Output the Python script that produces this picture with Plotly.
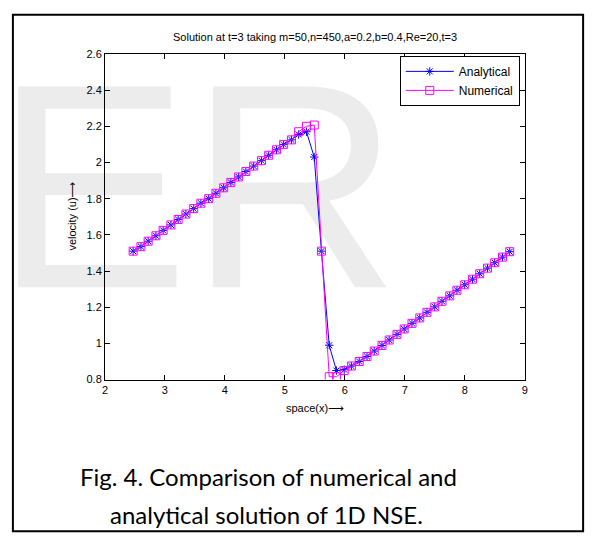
import plotly.graph_objects as go

# Grid points in space
space_x = [2.47, 2.60, 2.72, 2.85, 2.97, 3.10, 3.22, 3.35, 3.48, 3.60,
           3.73, 3.85, 3.98, 4.10, 4.23, 4.35, 4.48, 4.61, 4.73, 4.86,
           4.98, 5.11, 5.23, 5.36, 5.49, 5.61, 5.74, 5.86, 5.99, 6.11,
           6.24, 6.37, 6.49, 6.62, 6.74, 6.87, 6.99, 7.12, 7.25, 7.37,
           7.50, 7.62, 7.75, 7.87, 8.00, 8.13, 8.25, 8.38, 8.50, 8.63,
           8.75]

# Exact (analytical) velocity at t=3
u_analytical = [1.510, 1.535, 1.565, 1.595, 1.625, 1.655, 1.685, 1.715, 1.745, 1.775,
                1.800, 1.830, 1.860, 1.890, 1.920, 1.950, 1.980, 2.010, 2.040, 2.070,
                2.100, 2.125, 2.155, 2.170, 2.030, 1.510, 0.990, 0.850, 0.855, 0.875,
                0.900, 0.928, 0.958, 0.989, 1.019, 1.050, 1.080, 1.111, 1.141, 1.172,
                1.202, 1.233, 1.263, 1.294, 1.324, 1.355, 1.385, 1.416, 1.446, 1.477,
                1.507]

# Numerical velocity at t=3
u_numerical = [1.510, 1.535, 1.565, 1.595, 1.625, 1.655, 1.685, 1.715, 1.745, 1.775,
               1.800, 1.830, 1.860, 1.890, 1.920, 1.950, 1.980, 2.010, 2.040, 2.070,
               2.100, 2.125, 2.170, 2.200, 2.207, 1.510, 0.816, 0.816, 0.850, 0.875,
               0.900, 0.928, 0.958, 0.989, 1.019, 1.050, 1.080, 1.111, 1.141, 1.172,
               1.202, 1.233, 1.263, 1.294, 1.324, 1.355, 1.385, 1.416, 1.446, 1.477,
               1.507]

x_ticks = [2, 3, 4, 5, 6, 7, 8, 9]
y_ticks = [0.8, 1.0, 1.2, 1.4, 1.6, 1.8, 2.0, 2.2, 2.4, 2.6]

W, H = 597, 547
px = lambda v: v / W
py = lambda v: 1 - v / H

fig = go.Figure()

# Faint background lettering, on a page-sized hidden subplot drawn first
fig.add_trace(go.Scatter(
    x=[196], y=[213], mode="text", text=["ER"],
    textposition="middle center",
    textfont=dict(family="Liberation Sans, Arial", size=292, color="#ececec"),
    cliponaxis=False, showlegend=False, hoverinfo="skip",
    xaxis="x", yaxis="y",
))

fig.add_trace(go.Scatter(
    x=space_x, y=u_analytical, name="Analytical", mode="lines+markers",
    line=dict(color="#0000ff", width=1),
    marker=dict(symbol="asterisk-open", size=7, color="#0000ff",
                line=dict(color="#0000ff", width=1)),
    xaxis="x2", yaxis="y2",
))
fig.add_trace(go.Scatter(
    x=space_x, y=u_numerical, name="Numerical", mode="lines+markers",
    line=dict(color="#ff00ff", width=1),
    marker=dict(symbol="square-open", size=8, color="#ff00ff",
                line=dict(color="#ff00ff", width=1)),
    xaxis="x2", yaxis="y2",
))

axis_style = dict(
    showline=True, linecolor="black", linewidth=1, mirror="ticks",
    ticks="inside", ticklen=5, tickwidth=1, tickcolor="black",
    showgrid=False, zeroline=False,
    tickfont=dict(family="Liberation Sans, Arial", size=11, color="black"),
)

fig.update_layout(
    width=W, height=H,
    margin=dict(l=0, r=0, t=0, b=0),
    paper_bgcolor="white",
    plot_bgcolor="rgba(0,0,0,0)",
    xaxis=dict(domain=[0, 1], range=[0, W], visible=False, fixedrange=True),
    yaxis=dict(domain=[0, 1], range=[H, 0], visible=False, fixedrange=True),
    xaxis2=dict(domain=[px(103), px(527)], anchor="y2", range=[2, 9],
                tickvals=x_ticks, **axis_style),
    yaxis2=dict(domain=[py(382), py(49)], anchor="x2", range=[0.8, 2.6],
                tickvals=y_ticks, **axis_style),
    showlegend=True,
    legend=dict(x=px(522), xanchor="right", y=py(51), yanchor="top",
                bgcolor="white", bordercolor="black", borderwidth=1,
                font=dict(family="Liberation Sans, Arial", size=12, color="black"),
                itemwidth=48, tracegroupgap=0),
    font=dict(family="Liberation Sans, Arial", color="black"),
)

small = dict(family="Liberation Sans, DejaVu Sans, Arial", size=11, color="black")
caption = dict(family="Lato", size=24, color="black")
common = dict(xref="paper", yref="paper", showarrow=False,
              xanchor="center", yanchor="middle")
fig.update_layout(annotations=[
    dict(text="Solution at t=3 taking m=50,n=450,a=0.2,b=0.4,Re=20,t=3",
         x=px(315), y=py(32), font=small, **common),
    dict(text="space(x)\u27f6", x=px(315), y=py(411), font=small, **common),
    dict(text="velocity (u)\u27f6", x=px(70), y=py(215), font=small,
         textangle=-90, **common),
    dict(text="Fig. 4. Comparison of numerical and", x=px(268), y=py(481),
         font=caption, **common),
    dict(text="analytical solution of 1D NSE.", x=px(266), y=py(520),
         font=caption, **common),
])

# Outer frame
fig.add_shape(type="rect", xref="paper", yref="paper",
              x0=px(10), x1=px(586), y0=py(537), y1=py(9),
              line=dict(color="black", width=2))

fig.write_html("out.html")
